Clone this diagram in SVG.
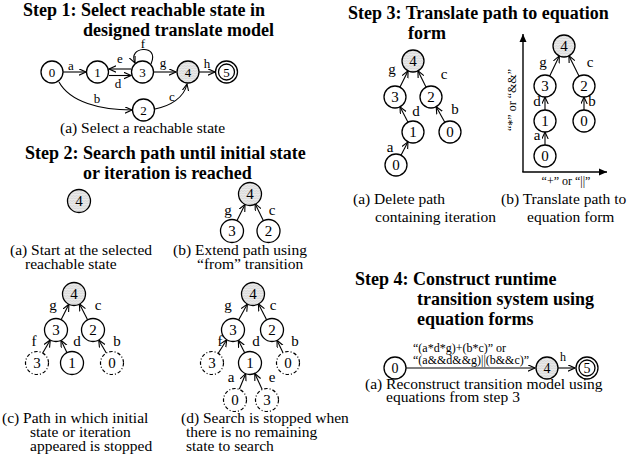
<svg xmlns="http://www.w3.org/2000/svg" width="632" height="465" viewBox="0 0 632 465">
  <style>
    text { font-family: "Liberation Serif", "Times New Roman", serif; fill: #000; }
    .title { font-size: 18px; font-weight: bold; }
    .cap { font-size: 15.5px; }
    .lbl { font-size: 15px; }
    .slbl { font-size: 13px; }
    .eq { font-size: 12px; }
    .num { font-size: 15px; text-anchor: middle; }
    .snum { font-size: 13px; text-anchor: middle; }
    .mnum { font-size: 14px; text-anchor: middle; }
    .mid { text-anchor: middle; }
    .st { fill: #fff; stroke: #000; stroke-width: 1.3; }
    .hat { fill: url(#hatch); stroke: #000; stroke-width: 1.3; }
    .dsh { fill: #fff; stroke: #000; stroke-width: 1.2; stroke-dasharray: 3.5 2 1 2; }
    .edge { fill: none; stroke: #000; stroke-width: 1.1; marker-end: url(#arr); }
    .axis { fill: none; stroke: #000; stroke-width: 1.4; marker-end: url(#tri); }
  </style>
  <defs>
    <pattern id="hatch" width="3" height="2.5" patternUnits="userSpaceOnUse">
      <rect width="3" height="2.5" fill="#ececec"/>
      <path d="M0,1.3 L1.5,0.6 L3,1.3" fill="none" stroke="#b4b4b4" stroke-width="0.5"/>
    </pattern>
    <marker id="arr" markerUnits="userSpaceOnUse" markerWidth="9" markerHeight="8" refX="7" refY="3.5" orient="auto">
      <path d="M0,0.3 L7,3.5 L0,6.7" fill="none" stroke="#000" stroke-width="1.1"/>
    </marker>
    <marker id="tri" markerUnits="userSpaceOnUse" markerWidth="10" markerHeight="8" refX="8" refY="4" orient="auto">
      <path d="M0,0.5 L8,4 L0,7.5 z" fill="#000"/>
    </marker>
  </defs>

  <!-- ===== Step 1 ===== -->
  <text class="title" x="23" y="16">Step 1: Select reachable state in</text>
  <text class="title" x="83" y="36">designed translate model</text>

  <g id="connectors-s1">
    <line class="edge" x1="63" y1="72" x2="86" y2="72"/>
    <line class="edge" x1="131" y1="69" x2="109" y2="69"/>
    <line class="edge" x1="109" y1="75.5" x2="131" y2="75.5"/>
    <path class="edge" d="M151,64 C156,53 149,49 143,49.5 C137,50 131,54 135,63"/>
    <line class="edge" x1="154" y1="72" x2="176" y2="72"/>
    <line class="edge" x1="199" y1="72" x2="215" y2="72"/>
    <path class="edge" d="M59,82 C70,102 100,110 132,110"/>
    <path class="edge" d="M155,109 C170,106 184,98 187,84"/>
    <text class="slbl mid" x="71" y="70">a</text>
    <text class="slbl mid" x="120" y="63">e</text>
    <text class="slbl mid" x="118" y="88">d</text>
    <text class="slbl mid" x="143" y="47.5">f</text>
    <text class="slbl mid" x="163" y="67">g</text>
    <text class="slbl mid" x="207" y="68">h</text>
    <text class="slbl mid" x="97" y="103">b</text>
    <text class="slbl mid" x="172" y="101">c</text>
  </g>
  <g id="s1-n0"><circle class="st" cx="52" cy="72" r="11"/><text class="snum" x="52" y="76.5">0</text></g>
  <g id="s1-n1"><circle class="st" cx="97.5" cy="72" r="11"/><text class="snum" x="97.5" y="76.5">1</text></g>
  <g id="s1-n3"><circle class="st" cx="142.5" cy="72" r="11"/><text class="snum" x="142.5" y="76.5">3</text></g>
  <g id="s1-n4"><circle class="hat" cx="188" cy="72" r="11"/><text class="snum" x="188" y="76.5">4</text></g>
  <g id="s1-n5"><circle class="st" cx="226.5" cy="72" r="11"/><circle class="st" cx="226.5" cy="72" r="8"/><text class="snum" x="226.5" y="76.5">5</text></g>
  <g id="s1-n2"><circle class="st" cx="143.5" cy="110" r="11"/><text class="snum" x="143.5" y="114.5">2</text></g>
  <text class="cap" x="60" y="133">(a) Select a reachable state</text>

  <!-- ===== Step 2 ===== -->
  <text class="title" x="25" y="159">Step 2: Search path until initial state</text>
  <text class="title" x="83" y="179">or iteration is reached</text>

  <!-- (a) -->
  <g id="s2a-n4"><circle class="hat" cx="79" cy="201" r="11.5"/><text class="num" x="79" y="206">4</text></g>
  <text class="cap" x="10" y="255">(a) Start at the selected</text>
  <text class="cap" x="25" y="269">reachable state</text>

  <!-- (b) -->
  <g id="connectors-s2b">
    <line class="edge" x1="237" y1="220.6" x2="245" y2="204.4"/>
    <line class="edge" x1="263.4" y1="220.7" x2="255.1" y2="203.7"/>
    <text class="lbl mid" x="228" y="215">g</text>
    <text class="lbl mid" x="272" y="215">c</text>
  </g>
  <g id="s2b-n4"><circle class="hat" cx="250" cy="194" r="11.5"/><text class="num" x="250" y="199">4</text></g>
  <g id="s2b-n3"><circle class="st" cx="232" cy="231" r="11.5"/><text class="num" x="232" y="236">3</text></g>
  <g id="s2b-n2"><circle class="st" cx="268.5" cy="231" r="11.5"/><text class="num" x="268.5" y="236">2</text></g>
  <text class="cap" x="173" y="255">(b) Extend path using</text>
  <text class="cap" x="197" y="269">“from” transition</text>

  <!-- (c) -->
  <g id="connectors-s2c">
    <line class="edge" x1="61.1" y1="319.7" x2="68.9" y2="304.3"/>
    <line class="edge" x1="87.6" y1="319.8" x2="79.4" y2="303.8"/>
    <line class="edge" x1="42.7" y1="353" x2="50.3" y2="340"/>
    <line class="edge" x1="67" y1="352.7" x2="61" y2="340.3"/>
    <line class="edge" x1="106.3" y1="353" x2="98.7" y2="340"/>
    <text class="lbl mid" x="53" y="310">g</text>
    <text class="lbl mid" x="98" y="310">c</text>
    <text class="lbl mid" x="34" y="346">f</text>
    <text class="lbl mid" x="77" y="346">d</text>
    <text class="lbl mid" x="117" y="346">b</text>
  </g>
  <g id="s2c-n4"><circle class="hat" cx="74" cy="294" r="11.5"/><text class="num" x="74" y="299">4</text></g>
  <g id="s2c-n3"><circle class="st" cx="56" cy="330" r="11.5"/><text class="num" x="56" y="335">3</text></g>
  <g id="s2c-n2"><circle class="st" cx="93" cy="330" r="11.5"/><text class="num" x="93" y="335">2</text></g>
  <g id="s2c-n3x"><circle class="dsh" cx="37" cy="363" r="11.5"/><text class="num" x="37" y="368">3</text></g>
  <g id="s2c-n1"><circle class="st" cx="72" cy="363" r="11.5"/><text class="num" x="72" y="368">1</text></g>
  <g id="s2c-n0x"><circle class="dsh" cx="112" cy="363" r="11.5"/><text class="num" x="112" y="368">0</text></g>
  <text class="cap" x="2" y="423">(c) Path in which initial</text>
  <text class="cap" x="30" y="437">state or iteration</text>
  <text class="cap" x="30" y="451">appeared is stopped</text>

  <!-- (d) -->
  <g id="connectors-s2d">
    <line class="edge" x1="238.6" y1="319.9" x2="247.4" y2="304.1"/>
    <line class="edge" x1="266.6" y1="319.8" x2="258.4" y2="303.8"/>
    <line class="edge" x1="218.2" y1="353.3" x2="226.8" y2="339.7"/>
    <line class="edge" x1="244.7" y1="352.8" x2="238.3" y2="340.2"/>
    <line class="edge" x1="283" y1="352.7" x2="277" y2="340.3"/>
    <line class="edge" x1="239.3" y1="389.3" x2="245.7" y2="373.7"/>
    <line class="edge" x1="262.2" y1="389.5" x2="254.8" y2="373.5"/>
    <text class="lbl mid" x="228" y="310">g</text>
    <text class="lbl mid" x="273" y="310">c</text>
    <text class="lbl mid" x="220" y="346">f</text>
    <text class="lbl mid" x="256" y="346">d</text>
    <text class="lbl mid" x="295" y="346">b</text>
    <text class="lbl mid" x="231" y="382">a</text>
    <text class="lbl mid" x="272" y="382">e</text>
  </g>
  <g id="s2d-n4"><circle class="hat" cx="253" cy="294" r="11.5"/><text class="num" x="253" y="299">4</text></g>
  <g id="s2d-n3"><circle class="st" cx="233" cy="330" r="11.5"/><text class="num" x="233" y="335">3</text></g>
  <g id="s2d-n2"><circle class="st" cx="272" cy="330" r="11.5"/><text class="num" x="272" y="335">2</text></g>
  <g id="s2d-n3x"><circle class="dsh" cx="212" cy="363" r="11.5"/><text class="num" x="212" y="368">3</text></g>
  <g id="s2d-n1"><circle class="st" cx="250" cy="363" r="11.5"/><text class="num" x="250" y="368">1</text></g>
  <g id="s2d-n0x"><circle class="dsh" cx="288" cy="363" r="11.5"/><text class="num" x="288" y="368">0</text></g>
  <g id="s2d-n0y"><circle class="dsh" cx="235" cy="400" r="11.5"/><text class="num" x="235" y="405">0</text></g>
  <g id="s2d-n3y"><circle class="dsh" cx="267" cy="400" r="11.5"/><text class="num" x="267" y="405">3</text></g>
  <text class="cap" x="181" y="423">(d) Search is stopped when</text>
  <text class="cap" x="186" y="437">there is no remaining</text>
  <text class="cap" x="186" y="451">state to search</text>

  <!-- ===== Step 3 ===== -->
  <text class="title" x="348" y="19">Step 3: Translate path to equation</text>
  <text class="title" x="408" y="39">form</text>

  <!-- (a) -->
  <g id="connectors-s3a">
    <line class="edge" x1="399.9" y1="87.2" x2="408.1" y2="70.8"/>
    <line class="edge" x1="426.1" y1="87.2" x2="417.9" y2="70.8"/>
    <line class="edge" x1="408" y1="122.2" x2="400" y2="106.8"/>
    <line class="edge" x1="444.8" y1="122.3" x2="436.2" y2="106.7"/>
    <line class="edge" x1="401" y1="155.2" x2="408" y2="141.8"/>
    <text class="lbl mid" x="392" y="74">g</text>
    <text class="lbl mid" x="444" y="79">c</text>
    <text class="lbl mid" x="416" y="116">d</text>
    <text class="lbl mid" x="455" y="114">b</text>
    <text class="lbl mid" x="390" y="152">a</text>
  </g>
  <g id="s3a-n4"><circle class="hat" cx="413" cy="61" r="11"/><text class="num" x="413" y="66">4</text></g>
  <g id="s3a-n3"><circle class="st" cx="395" cy="97" r="11"/><text class="num" x="395" y="102">3</text></g>
  <g id="s3a-n2"><circle class="st" cx="431" cy="97" r="11"/><text class="num" x="431" y="102">2</text></g>
  <g id="s3a-n1"><circle class="st" cx="413" cy="132" r="11"/><text class="num" x="413" y="137">1</text></g>
  <g id="s3a-n0r"><circle class="st" cx="450" cy="132" r="11"/><text class="num" x="450" y="137">0</text></g>
  <g id="s3a-n0b"><circle class="st" cx="396" cy="165" r="11"/><text class="num" x="396" y="170">0</text></g>
  <text class="cap" x="353" y="204">(a) Delete path</text>
  <text class="cap" x="375" y="222">containing iteration</text>

  <!-- (b) -->
  <g id="axes-s3b">
    <line class="axis" x1="523" y1="172" x2="523" y2="34"/>
    <line class="axis" x1="522.3" y1="172" x2="607" y2="172"/>
    <text class="eq mid" x="566" y="185">“+” or “||”</text>
    <text class="eq mid" transform="translate(516,100) rotate(-90)">“*” or “&amp;&amp;”</text>
  </g>
  <g id="connectors-s3b">
    <line class="edge" x1="549.7" y1="76.1" x2="559.3" y2="55.9"/>
    <line class="edge" x1="579.1" y1="76.2" x2="568.9" y2="55.8"/>
    <line class="edge" x1="545" y1="110" x2="545" y2="97"/>
    <line class="edge" x1="584" y1="110" x2="584" y2="97"/>
    <line class="edge" x1="545" y1="145" x2="545" y2="132"/>
    <text class="lbl mid" x="543" y="67">g</text>
    <text class="lbl mid" x="590" y="67">c</text>
    <text class="lbl mid" x="537" y="106">d</text>
    <text class="lbl mid" x="592" y="106">b</text>
    <text class="lbl mid" x="537" y="140">a</text>
  </g>
  <g id="s3b-n4"><circle class="hat" cx="564" cy="46" r="11"/><text class="num" x="564" y="51">4</text></g>
  <g id="s3b-n3"><circle class="st" cx="545" cy="86" r="11"/><text class="num" x="545" y="91">3</text></g>
  <g id="s3b-n2"><circle class="st" cx="584" cy="86" r="11"/><text class="num" x="584" y="91">2</text></g>
  <g id="s3b-n1"><circle class="st" cx="545" cy="121" r="11"/><text class="num" x="545" y="126">1</text></g>
  <g id="s3b-n0r"><circle class="st" cx="584" cy="121" r="11"/><text class="num" x="584" y="126">0</text></g>
  <g id="s3b-n0b"><circle class="st" cx="545" cy="156" r="11"/><text class="num" x="545" y="161">0</text></g>
  <text class="cap" x="501" y="204">(b) Translate path to</text>
  <text class="cap" x="527" y="222">equation form</text>

  <!-- ===== Step 4 ===== -->
  <text class="title" x="355" y="285">Step 4: Construct runtime</text>
  <text class="title" x="417" y="305">transition system using</text>
  <text class="title" x="417" y="325">equation forms</text>

  <g id="connectors-s4">
    <line class="edge" x1="406" y1="368" x2="535" y2="368"/>
    <line class="edge" x1="558" y1="368" x2="575" y2="368"/>
    <text class="eq" x="413" y="352">“(a*d*g)+(b*c)” or</text>
    <text class="eq" x="413" y="364">“(a&amp;&amp;d&amp;&amp;g)||(b&amp;&amp;c)”</text>
    <text class="eq" x="560" y="361">h</text>
  </g>
  <g id="s4-n0"><circle class="st" cx="395" cy="368" r="11"/><text class="mnum" x="395" y="372.5">0</text></g>
  <g id="s4-n4"><circle class="hat" cx="547" cy="368" r="11"/><text class="mnum" x="547" y="372.5">4</text></g>
  <g id="s4-n5"><circle class="st" cx="587" cy="368" r="11"/><circle class="st" cx="587" cy="368" r="8"/><text class="mnum" x="587" y="372.5">5</text></g>
  <text class="cap" x="365" y="389">(a) Reconstruct transition model using</text>
  <text class="cap" x="386" y="402">equations from step 3</text>
</svg>
